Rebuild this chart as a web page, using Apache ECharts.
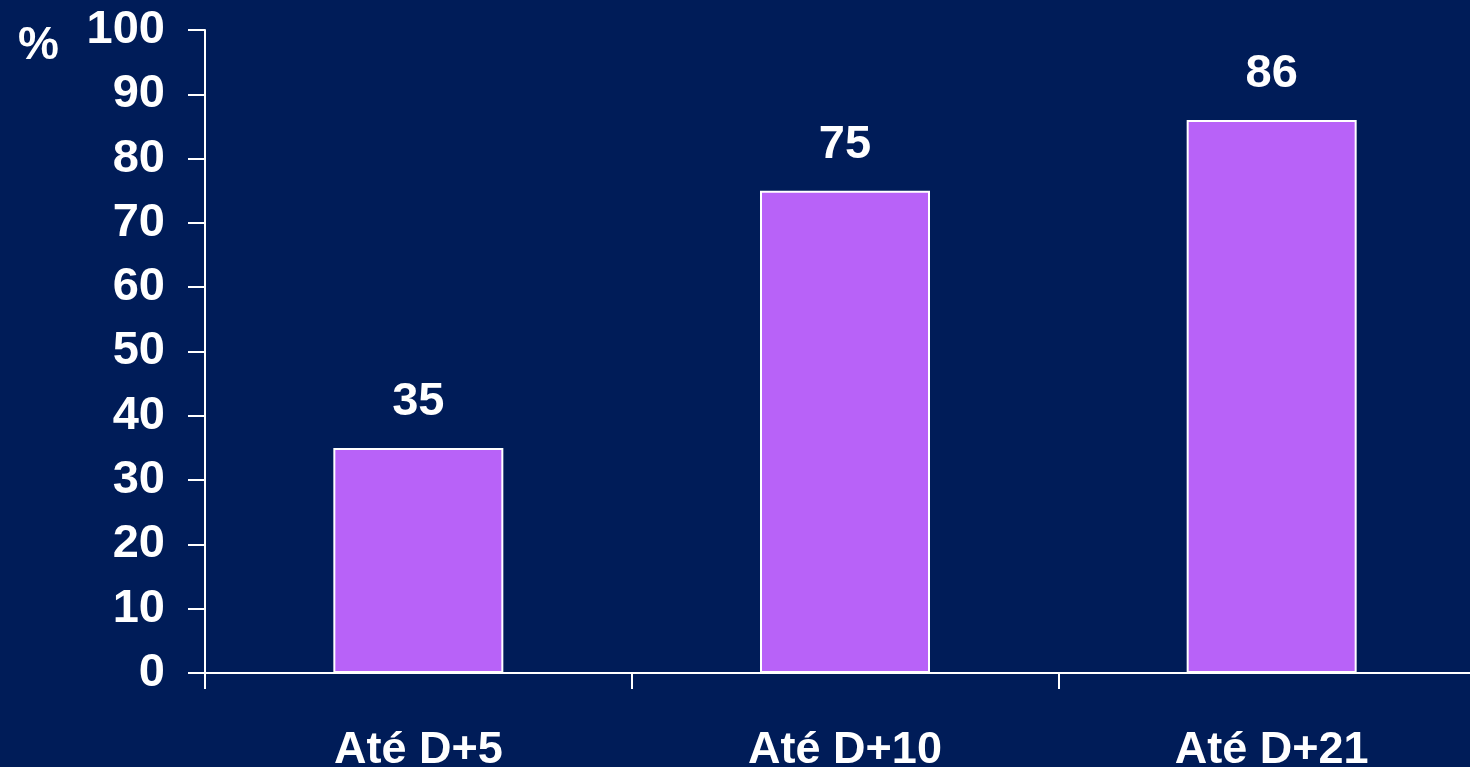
<!DOCTYPE html>
<html>
<head>
<meta charset="utf-8">
<script src="https://cdn.jsdelivr.net/npm/echarts@6/dist/echarts.min.js"></script>
<style>
  html, body { margin: 0; padding: 0; background: #001c58; }
  #chart { width: 1470px; height: 767px; }
</style>
</head>
<body>
<div id="chart"></div>
<script>
var categories = ['Até D+5', 'Até D+10', 'Até D+21'];
var values = [35, 75, 86];
var yTicks = [0, 100, 10]; // min, max, step

var font = '"Liberation Sans", Arial, sans-serif';
var myChart = echarts.init(document.getElementById('chart'));

var option = {
    backgroundColor: '#001c58',
    animation: false,
    title: {
        text: '%',
        left: 13,
        top: 18,
        textStyle: { color: '#fff', fontSize: 46, fontWeight: 'bold', fontFamily: font }
    },
    grid: {
        left: 205,
        top: 30,
        bottom: 94,
        right: -15,
        outerBoundsMode: 'none',
        containLabel: false
    },
    xAxis: {
        type: 'category',
        data: categories,
        axisLine: { lineStyle: { color: '#fff', width: 2 } },
        axisTick: { show: true, length: 16, lineStyle: { color: '#fff', width: 2 } },
        axisLabel: {
            color: '#fff', fontSize: 45, fontWeight: 'bold', fontFamily: font, margin: 55
        }
    },
    yAxis: {
        type: 'value',
        min: yTicks[0],
        max: yTicks[1],
        interval: yTicks[2],
        splitLine: { show: false },
        axisLine: { show: true, lineStyle: { color: '#fff', width: 2 } },
        axisTick: { show: true, length: 17, lineStyle: { color: '#fff', width: 2 } },
        axisLabel: {
            color: '#fff', fontSize: 47, fontWeight: 'bold', fontFamily: font, margin: 40
        }
    },
    series: [{
        type: 'bar',
        data: values,
        barWidth: 170,
        itemStyle: { color: '#b862f8', borderColor: '#fff', borderWidth: 2 },
        label: {
            show: true,
            position: 'top',
            distance: 22,
            color: '#fff',
            fontSize: 47,
            fontWeight: 'bold',
            fontFamily: font
        }
    }]
};

myChart.setOption(option);
</script>
</body>
</html>
